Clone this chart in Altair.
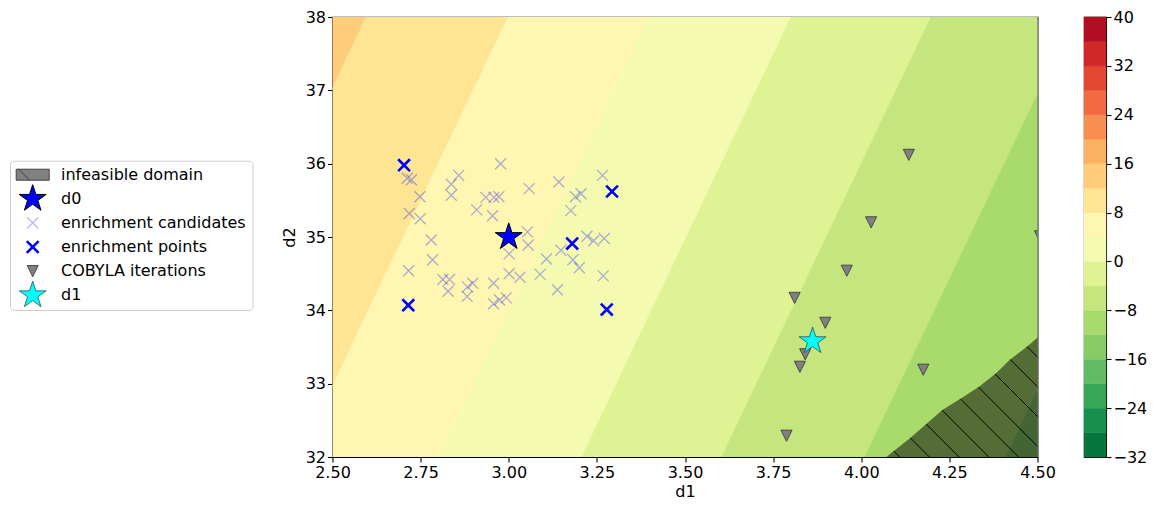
import math
import numpy as np
import pandas as pd
import altair as alt

FONT = "DejaVu Sans"
MAIN_W, MAIN_H = 705, 440
CB_W = 22
LEG_W = 252

# ---------------- data ----------------
# contour lines of the objective: level and the d1 where each line crosses d2=38 (top) / d2=32 (bottom)
line_levels = [16, 12, 8, 4, 0, -4, -8, -12, -16]
line_d1_top = [2.195, 2.596, 2.998, 3.399, 3.801, 4.198, 4.604, 5.004, 5.404]
line_d1_bottom = [1.601, 2.002, 2.404, 2.805, 3.207, 3.604, 4.010, 4.410, 4.810]

# colour bar level boundaries and ticks
cbar_bounds = [-32, -28, -24, -20, -16, -12, -8, -4, 0, 4, 8, 12, 16, 20, 24, 28, 32, 36, 40]
cbar_ticks = [-32, -24, -16, -8, 0, 8, 16, 24, 32, 40]

# boundary of the infeasible domain (region below this curve)
infeas_d1 = [4.071, 4.139, 4.230, 4.287, 4.335, 4.384, 4.420, 4.469, 4.503]
infeas_d2 = [32.00, 32.26, 32.64, 32.81, 32.96, 33.15, 33.32, 33.50, 33.64]

# enrichment candidates
cand_d1 = [2.977, 2.712, 2.724, 2.858, 2.837, 2.837, 2.748, 2.935, 2.958, 2.972,
           3.058, 3.142, 3.266, 3.189, 3.205, 2.909, 2.954, 2.718, 2.749, 3.176,
           3.053, 3.055, 2.780, 3.001, 3.222, 3.241, 3.271, 3.148, 3.107, 3.182,
           3.200, 2.784, 2.716, 3.001, 3.032, 3.089, 2.813, 2.832, 2.828, 2.898,
           2.883, 2.882, 2.957, 3.138, 3.268, 2.957, 2.974, 2.993]
cand_d2 = [36.00, 35.80, 35.78, 35.84, 35.72, 35.57, 35.55, 35.54, 35.54, 35.55,
           35.66, 35.75, 35.84, 35.55, 35.59, 35.37, 35.29, 35.32, 35.25, 35.36,
           35.07, 34.89, 34.96, 34.77, 35.01, 34.95, 34.98, 34.82, 34.70, 34.69,
           34.58, 34.69, 34.54, 34.50, 34.45, 34.49, 34.42, 34.42, 34.26, 34.37,
           34.32, 34.19, 34.37, 34.28, 34.47, 34.09, 34.14, 34.17]

# enrichment points
enr_d1 = [2.703, 2.715, 3.293, 3.180, 3.278]
enr_d2 = [35.98, 34.07, 35.62, 34.91, 34.01]

# starting design and optimum
d0_d1, d0_d2 = [3.000], [35.00]
d1_d1, d1_d2 = [3.862], [33.58]

# COBYLA iterations
cob_d1 = [4.135, 4.028, 3.959, 3.811, 3.898, 3.841, 3.826, 4.176, 3.788, 4.507]
cob_d2 = [36.12, 35.20, 34.54, 34.17, 33.83, 33.40, 33.23, 33.19, 32.29, 35.01]

x_ticks = [2.5, 2.75, 3.0, 3.25, 3.5, 3.75, 4.0, 4.25, 4.5]
y_ticks = [32, 33, 34, 35, 36, 37, 38]
x_domain = [2.5, 4.5]
y_domain = [32, 38]

legend_names = ["infeasible domain", "d0", "enrichment candidates",
                "enrichment points", "COBYLA iterations", "d1"]

# ---------------- colours (RdYlGn reversed) ----------------
RDYLGN = ["#a50026", "#d73027", "#f46d43", "#fdae61", "#fee08b", "#ffffbf",
          "#d9ef8b", "#a6d96a", "#66bd63", "#1a9850", "#006837"]


def _rgb(h):
    return [int(h[i:i + 2], 16) for i in (1, 3, 5)]


def cmap_r(t):
    s = (1.0 - t) * 10.0
    i = min(int(s), 9)
    f = s - i
    a, b = _rgb(RDYLGN[i]), _rgb(RDYLGN[i + 1])
    c = [round(a[k] + (b[k] - a[k]) * f) for k in range(3)]
    return "#%02x%02x%02x" % tuple(c)


vmin, vmax = cbar_bounds[0], cbar_bounds[-1]
band_names = [f"{lo}..{hi}" for lo, hi in zip(cbar_bounds[:-1], cbar_bounds[1:])]
band_colors = [cmap_r(((lo + hi) / 2 - vmin) / (vmax - vmin))
               for lo, hi in zip(cbar_bounds[:-1], cbar_bounds[1:])]
band_scale = alt.Scale(domain=band_names, range=band_colors)

# ---------------- tables ----------------
band_rows = []
for i in range(len(line_levels) - 1):
    hi, lo = line_levels[i], line_levels[i + 1]
    name = f"{lo}..{hi}"
    band_rows.append(dict(band=name, d2=y_domain[1], left=line_d1_top[i], right=line_d1_top[i + 1]))
    band_rows.append(dict(band=name, d2=y_domain[0], left=line_d1_bottom[i], right=line_d1_bottom[i + 1]))
band_df = pd.DataFrame(band_rows)

infeas_df = pd.DataFrame({"d1": infeas_d1, "d2": infeas_d2, "base": y_domain[0]})

# hatch pattern (45 degree lines on screen) inside the infeasible domain
px_per_d1 = MAIN_W / (x_domain[1] - x_domain[0])
px_per_d2 = MAIN_H / (y_domain[1] - y_domain[0])
ratio = px_per_d1 / px_per_d2
HATCH_FIRST, HATCH_STEP, HATCH_N = 4.109, 0.0843, 10
grid = np.linspace(infeas_d1[0], 4.7, 4000)
bnd = np.interp(grid, infeas_d1, infeas_d2)
hatch_rows = []
for k in range(HATCH_N):
    xb = HATCH_FIRST + k * HATCH_STEP
    g = y_domain[0] + (xb - grid) * ratio - bnd
    idx = np.nonzero(g <= 0)[0]
    if len(idx) == 0:
        continue
    j = idx[0]
    if grid[j] >= x_domain[1]:
        continue
    hatch_rows.append(dict(x1=float(grid[j]), y1=float(bnd[j]), x2=xb, y2=float(y_domain[0])))
hatch_df = pd.DataFrame(hatch_rows)

# ---------------- marker shapes ----------------
def star_path():
    pts = []
    for i in range(10):
        ang = math.radians(90 + 36 * i)
        r = 1.0 if i % 2 == 0 else 0.381966
        pts.append((r * math.cos(ang), -r * math.sin(ang)))
    return "M" + "L".join(f"{x:.4f},{y:.4f}" for x, y in pts) + "Z"


STAR = star_path()
XMARK = "M-1,-1L1,1M-1,1L1,-1"
TRI_DOWN = "M-1,-1L1,-1L0,1Z"
PATCH = "M-1,-0.333L1,-0.333L1,0.333L-1,0.333Z M-0.85,-0.333L-0.18,0.333"

styles = {
    "infeasible domain": dict(shape=PATCH, filled=True, fill="#808080", stroke="#404040",
                              strokeWidth=1, size=1089, opacity=1),
    "d0": dict(shape=STAR, filled=True, fill="#0000ff", stroke="black", strokeWidth=1,
               size=800, opacity=1),
    "enrichment candidates": dict(shape=XMARK, filled=False, stroke="#0000ff", strokeWidth=1.3,
                                  size=121, opacity=0.3),
    "enrichment points": dict(shape=XMARK, filled=False, stroke="#0000ff", strokeWidth=2.6,
                              size=140, opacity=1),
    "COBYLA iterations": dict(shape=TRI_DOWN, filled=True, fill="#808080", stroke="#333333",
                              strokeWidth=0.8, size=125, opacity=1),
    "d1": dict(shape=STAR, filled=True, fill="#00ffff", stroke="#2f4f4f", strokeWidth=0.8,
               size=800, opacity=1),
}

# ---------------- main plot ----------------
xscale = alt.Scale(domain=x_domain, nice=False, zero=False)
yscale = alt.Scale(domain=y_domain, nice=False, zero=False)
xaxis = alt.Axis(values=x_ticks, format=".2f", labelFlush=False, labelOverlap=False, titlePadding=3)
yaxis = alt.Axis(values=y_ticks, format="d", labelOverlap=False, titlePadding=8)


def X(f):
    return alt.X(f, type="quantitative", scale=xscale, axis=xaxis, title="d1")


def Y(f):
    return alt.Y(f, type="quantitative", scale=yscale, axis=yaxis, title="d2")


bands = alt.Chart(band_df).mark_area(orient="horizontal", clip=True, strokeWidth=0.6).encode(
    y=Y("d2"), x=X("left"), x2="right:Q",
    color=alt.Color("band:N", scale=band_scale, legend=None),
    stroke=alt.Stroke("band:N", scale=band_scale, legend=None),
)

infeas = alt.Chart(infeas_df).mark_area(orient="vertical", clip=True, fill="black", fillOpacity=0.5).encode(
    x=X("d1"), y=Y("d2"), y2="base:Q"
)

hatch = alt.Chart(hatch_df).mark_rule(clip=True, color="black", strokeWidth=1).encode(
    x=X("x1"), y=Y("y1"), x2="x2:Q", y2="y2:Q"
)


def pts(d1v, d2v, name):
    df = pd.DataFrame({"d1": d1v, "d2": d2v})
    return alt.Chart(df).mark_point(clip=True, **styles[name]).encode(x=X("d1"), y=Y("d2"))


main = alt.layer(
    bands, infeas, hatch,
    pts(cand_d1, cand_d2, "enrichment candidates"),
    pts(enr_d1, enr_d2, "enrichment points"),
    pts(d0_d1, d0_d2, "d0"),
    pts(cob_d1, cob_d2, "COBYLA iterations"),
    pts(d1_d1, d1_d2, "d1"),
).properties(width=MAIN_W, height=MAIN_H,
             view=alt.ViewBackground(stroke="black", strokeWidth=1.1))

# ---------------- colour bar ----------------
cb_df = pd.DataFrame({"band": band_names, "lo": cbar_bounds[:-1], "hi": cbar_bounds[1:]})
cbar = alt.Chart(cb_df).mark_rect(strokeWidth=0.5).encode(
    y=alt.Y("lo:Q", scale=alt.Scale(domain=[vmin, vmax], nice=False, zero=False),
            axis=alt.Axis(orient="right", values=cbar_ticks, title=None, format="d",
                          labelExpr="replace(datum.label, '-', '\u2212')", labelOverlap=False)),
    y2="hi:Q",
    color=alt.Color("band:N", scale=band_scale, legend=None),
    stroke=alt.Stroke("band:N", scale=band_scale, legend=None),
).properties(width=CB_W, height=MAIN_H,
             view=alt.ViewBackground(stroke="black", strokeWidth=1.1))

# ---------------- legend panel ----------------
leg_df = pd.DataFrame({"name": legend_names})
ly = alt.Y("name:N", sort=legend_names,
           scale=alt.Scale(domain=legend_names, range=[157.7, 278.2], padding=0), axis=None)

box = alt.Chart(pd.DataFrame({"k": [0]})).mark_rect(
    fill="white", stroke="#cccccc", strokeWidth=1, cornerRadius=4
).encode(x=alt.value(1.5), x2=alt.value(244), y=alt.value(144.2), y2=alt.value(293.5))

leg_layers = [box]
for nm in legend_names:
    leg_layers.append(
        alt.Chart(leg_df).transform_filter(alt.datum.name == nm)
        .mark_point(**styles[nm]).encode(x=alt.value(23.7), y=ly)
    )
leg_layers.append(
    alt.Chart(leg_df).mark_text(align="left", baseline="middle", font=FONT, fontSize=16,
                                color="black").encode(x=alt.value(52), y=ly, text="name:N")
)
legend_chart = alt.layer(*leg_layers).properties(
    width=LEG_W, height=MAIN_H, view=alt.ViewBackground(stroke="transparent"))

chart = alt.hconcat(
    legend_chart,
    alt.hconcat(main, cbar, spacing=26.5),
    spacing=18.5,
).properties(
    padding={"left": 0, "top": 0, "right": 0, "bottom": 0}
).configure(font=FONT).configure_axis(
    labelFont=FONT, titleFont=FONT, labelFontSize=16, titleFontSize=16,
    labelColor="black", titleColor="black", tickColor="black", domainColor="black",
    tickSize=5, tickWidth=1.1, domainWidth=1.1, grid=False, titleFontWeight="normal",
    labelPadding=2,
).configure_view(stroke="transparent")

chart.save("out.html", embed_options={"renderer": "svg", "actions": False})
